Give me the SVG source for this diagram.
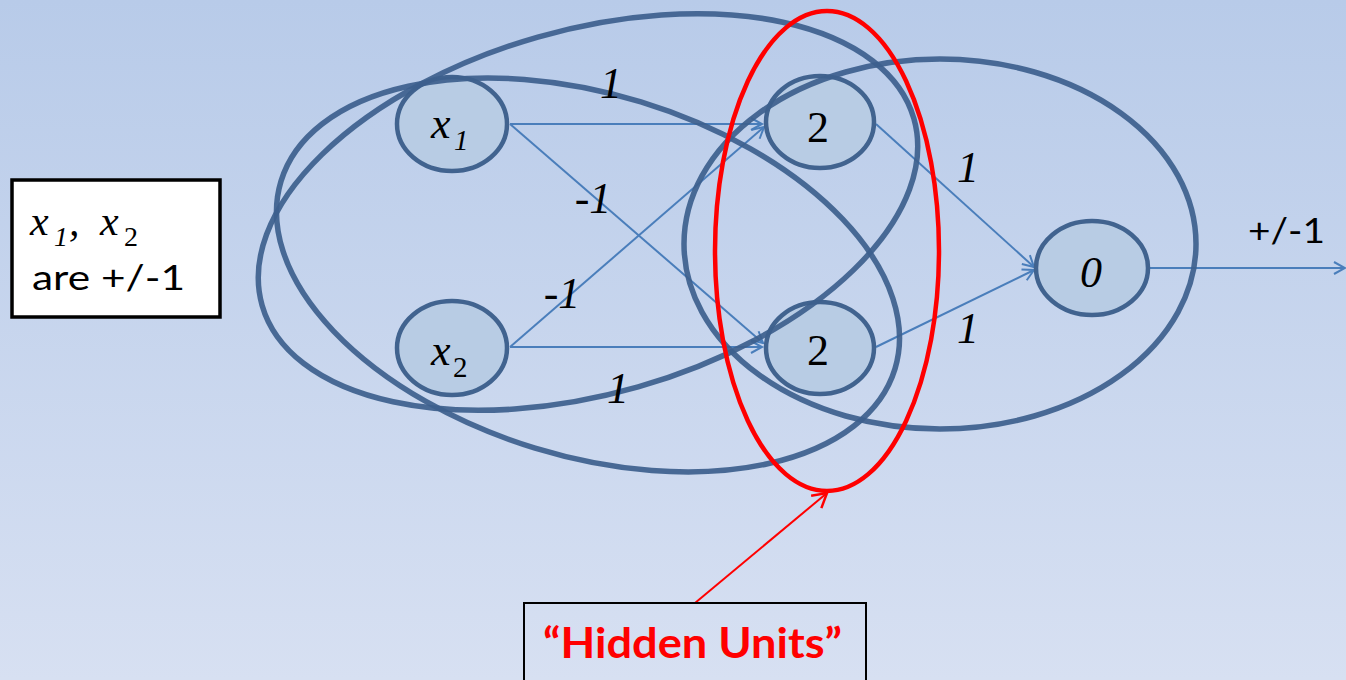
<svg xmlns="http://www.w3.org/2000/svg" width="1346" height="680" viewBox="0 0 1346 680">
<defs>
<linearGradient id="bg" x1="0" y1="0" x2="0" y2="1">
<stop offset="0" stop-color="#b8cbe9"/>
<stop offset="1" stop-color="#d7e0f2"/>
</linearGradient>
<marker id="arr" markerUnits="userSpaceOnUse" markerWidth="16" markerHeight="16" refX="12" refY="7" orient="auto">
<path d="M1,1 L12,7 L1,13" fill="none" stroke="#4a7ebb" stroke-width="2"/>
</marker>
<marker id="arrRed" markerUnits="userSpaceOnUse" markerWidth="20" markerHeight="20" refX="15" refY="9" orient="auto">
<path d="M1,1 L15,9 L1,17" fill="none" stroke="#ff0000" stroke-width="2.5"/>
</marker>
</defs>
<style>
.node{fill:#b8cce4;stroke:#41638f;stroke-width:4.5}
.edge{stroke:#4a7ebb;stroke-width:2;fill:none;marker-end:url(#arr)}
.grp{fill:none;stroke:#3d5f8d;stroke-width:5.5;opacity:0.92}
.it{font-family:'Liberation Serif','Times New Roman',serif;font-style:italic;fill:#000}
.rm{font-family:'Liberation Serif','Times New Roman',serif;fill:#000}
.cal{font-family:Lato,'Liberation Sans',sans-serif;fill:#000}
</style>
<rect x="0" y="0" width="1346" height="680" fill="url(#bg)"/>

<g id="connectors">
<line class="edge" x1="510" y1="124" x2="762" y2="124"/>
<line class="edge" x1="510" y1="124" x2="763" y2="343"/>
<line class="edge" x1="510" y1="347" x2="764" y2="127"/>
<line class="edge" x1="510" y1="347" x2="762" y2="347"/>
<line class="edge" x1="876" y1="124" x2="1034" y2="267"/>
<line class="edge" x1="876" y1="347" x2="1034" y2="270"/>
<line class="edge" x1="1150" y1="268" x2="1345" y2="268"/>
<line x1="695" y1="603" x2="827" y2="493" stroke="#ff0000" stroke-width="2" marker-end="url(#arrRed)"/>
</g>

<g id="node-x1">
<ellipse class="node" cx="452" cy="124" rx="55" ry="47"/>
<text class="it" x="431" y="138" font-size="44">x</text>
<text class="it" x="454" y="150" font-size="29">1</text>
</g>
<g id="node-x2">
<ellipse class="node" cx="452" cy="348" rx="55" ry="47"/>
<text class="it" x="431" y="365" font-size="44">x</text>
<text class="rm" x="453" y="377" font-size="29">2</text>
</g>
<g id="node-h1">
<ellipse class="node" cx="820" cy="122" rx="54" ry="46"/>
<text class="rm" x="818" y="142" font-size="44" text-anchor="middle">2</text>
</g>
<g id="node-h2">
<ellipse class="node" cx="820" cy="348" rx="54" ry="46"/>
<text class="rm" x="818" y="365" font-size="44" text-anchor="middle">2</text>
</g>
<g id="node-out">
<ellipse class="node" cx="1092" cy="268" rx="56" ry="47"/>
<text class="it" x="1091" y="287" font-size="44" text-anchor="middle">0</text>
</g>

<g id="groupings">
<ellipse class="grp" cx="588" cy="212" rx="339" ry="182" transform="rotate(-16 588 212)"/>
<ellipse class="grp" cx="588" cy="275" rx="321" ry="181" transform="rotate(17 588 275)"/>
<ellipse class="grp" cx="940" cy="244" rx="256" ry="185"/>
<ellipse cx="827" cy="251" rx="112" ry="240" fill="none" stroke="#ff0000" stroke-width="4.5"/>
</g>

<g id="edge-labels">
<text class="it" x="611" y="98" font-size="44" text-anchor="middle">1</text>
<text class="it" x="593" y="213" font-size="44" text-anchor="middle">-1</text>
<text class="it" x="562" y="308" font-size="44" text-anchor="middle">-1</text>
<text class="it" x="618" y="403" font-size="44" text-anchor="middle">1</text>
<text class="it" x="968" y="182" font-size="44" text-anchor="middle">1</text>
<text class="it" x="968" y="343" font-size="44" text-anchor="middle">1</text>
<text class="cal" x="1248" y="243" font-size="34" textLength="77" lengthAdjust="spacingAndGlyphs">+/-1</text>
</g>

<g id="note-inputs">
<rect x="12" y="180" width="208" height="137" fill="#ffffff" stroke="#000" stroke-width="3.5"/>
<text class="it" x="30" y="235" font-size="42">x</text>
<text class="it" x="54" y="246" font-size="28">1</text>
<text class="it" x="69" y="235" font-size="42">,</text>
<text class="it" x="100" y="235" font-size="42">x</text>
<text class="rm" x="124" y="246" font-size="28">2</text>
<text class="cal" x="32" y="290" font-size="34" textLength="153" lengthAdjust="spacingAndGlyphs">are +/-1</text>
</g>

<g id="note-hidden">
<rect x="524" y="603" width="342" height="90" fill="none" stroke="#000" stroke-width="2"/>
<text x="543" y="658" font-family="Lato,'Liberation Sans',sans-serif" font-weight="bold" font-size="42" fill="#ff0000" textLength="299" lengthAdjust="spacingAndGlyphs">“Hidden Units”</text>
</g>
</svg>
